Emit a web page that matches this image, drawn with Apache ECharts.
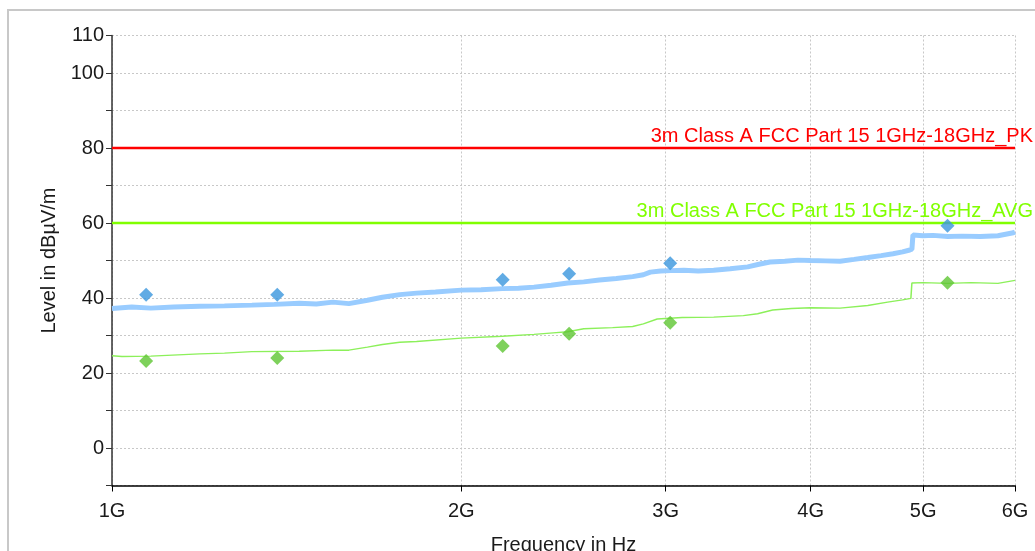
<!DOCTYPE html>
<html>
<head>
<meta charset="utf-8">
<script src="https://cdn.jsdelivr.net/npm/echarts@6/dist/echarts.min.js"></script>
<style>
html,body{margin:0;padding:0;background:#fff;overflow:hidden;}
#c{width:1035px;height:551px;}
</style>
</head>
<body>
<div id="c"></div>
<script>
// ---- data (frequencies in GHz, levels in dBµV/m) ----
const xTickGHz = [1, 2, 3, 4, 5, 6];
const yLabelValues = [110, 100, 80, 60, 40, 20, 0];

const peakFreq = [1.00,1.04,1.08,1.13,1.19,1.25,1.32,1.38,1.45,1.50,1.55,1.60,1.66,1.71,1.77,1.83,1.90,2.00,2.08,2.17,2.24,2.31,2.39,2.47,2.55,2.63,2.72,2.81,2.87,2.91,2.97,3.03,3.11,3.20,3.30,3.41,3.53,3.61,3.69,3.80,3.90,4.00,4.12,4.24,4.36,4.48,4.60,4.71,4.80,4.87,4.89,4.90,5.00,5.10,5.25,5.40,5.60,5.80,5.98,6.00];
const peakLevel = [37.2,37.6,37.3,37.6,37.8,37.9,38.1,38.3,38.6,38.4,38.9,38.5,39.4,40.2,40.9,41.3,41.6,42.1,42.2,42.5,42.6,42.9,43.4,44.0,44.3,44.8,45.2,45.7,46.2,46.9,47.2,47.3,47.4,47.2,47.4,47.8,48.3,49.0,49.6,49.8,50.1,50.0,49.9,49.8,50.3,50.8,51.3,51.8,52.3,52.8,53.0,56.8,56.6,56.7,56.4,56.5,56.4,56.6,57.4,57.6];

const avgFreq = [1.00,1.02,1.08,1.19,1.25,1.32,1.45,1.55,1.60,1.66,1.71,1.77,1.83,2.00,2.17,2.31,2.40,2.47,2.55,2.70,2.81,2.87,2.95,3.10,3.30,3.50,3.60,3.71,3.85,4.00,4.24,4.48,4.66,4.80,4.88,4.89,5.00,5.25,5.50,5.80,6.00];
const avgLevel = [24.6,24.4,24.5,25.1,25.3,25.7,25.8,26.1,26.1,26.9,27.6,28.2,28.4,29.3,29.8,30.3,30.7,31.0,31.8,32.1,32.4,33.1,34.4,34.8,34.9,35.3,35.8,36.8,37.2,37.4,37.3,38.0,38.9,39.5,39.9,44.0,44.1,43.9,44.1,43.9,44.7];

const markFreq = [1.070, 1.388, 2.171, 2.477, 3.027, 5.248];
const peakMarkLevel = [40.9, 40.9, 44.9, 46.5, 49.3, 59.3];
const avgMarkLevel = [23.2, 24.0, 27.2, 30.5, 33.4, 44.1];

const limitFreq = [1, 6];
const pkLimit = 80;
const avgLimit = 60;
const pkLimitName = '3m Class A FCC Part 15 1GHz-18GHz_PK';
const avgLimitName = '3m Class A FCC Part 15 1GHz-18GHz_AVG';

// ---- build ----
const lg = v => Math.log10(v);
const pairs = (fs, ls) => fs.map((f, i) => [lg(f), ls[i]]);
const FONT = '"Liberation Sans", Arial, sans-serif';
const FS = 20;

function limitSeries(name, level, color) {
  return {
    type: 'line', name: name, silent: true, z: 3,
    symbol: 'circle', symbolSize: 0, showSymbol: true,
    lineStyle: {color: color, width: 2.5},
    itemStyle: {color: color},
    data: [
      [lg(limitFreq[0]), level],
      {value: [lg(limitFreq[1]), level],
       label: {show: true, position: 'top', distance: 2, align: 'right', offset: [18, 0],
               formatter: name, color: color, fontSize: FS, fontFamily: FONT}}
    ]
  };
}

const chart = echarts.init(document.getElementById('c'), null, {renderer: 'canvas'});
chart.setOption({
  animation: false,
  backgroundColor: '#fff',
  textStyle: {fontFamily: FONT},
  graphic: [{
    type: 'rect', shape: {x: 8, y: 10, width: 1100, height: 600},
    style: {fill: 'none', stroke: '#c8c8c8', lineWidth: 2}, silent: true, z: -10
  }],
  grid: {left: 112, top: 35.5, width: 903, height: 450, containLabel: false, outerBoundsMode: 'none'},
  xAxis: {
    type: 'value', min: 0, max: lg(6),
    name: 'Frequency in Hz', nameLocation: 'middle', nameGap: 50,
    nameTextStyle: {fontSize: FS, color: '#1a1a1a', fontFamily: FONT},
    axisLine: {onZero: false, lineStyle: {color: '#000', width: 1.5}},
    axisTick: {show: true, length: 6, customValues: xTickGHz.map(lg), lineStyle: {color: '#000'}},
    axisLabel: {customValues: xTickGHz.map(lg), margin: 16, fontSize: FS, color: '#1a1a1a', fontFamily: FONT,
      formatter: v => Math.round(Math.pow(10, v)) + 'G'},
    splitLine: {show: true, lineStyle: {color: '#c8c8c8', type: [2, 2], width: 1}}
  },
  yAxis: {
    type: 'value', min: -10, max: 110, interval: 10,
    name: 'Level in dBµV/m', nameLocation: 'middle', nameGap: 53,
    nameTextStyle: {fontSize: FS, color: '#1a1a1a', fontFamily: FONT},
    axisLine: {show: true, onZero: false, lineStyle: {color: '#333', width: 1.5}},
    axisTick: {show: true, length: 6, lineStyle: {color: '#333'}},
    axisLabel: {margin: 8, fontSize: FS, color: '#1a1a1a', fontFamily: FONT,
      formatter: v => yLabelValues.indexOf(v) >= 0 ? String(v) : ''},
    splitLine: {show: true, lineStyle: {color: '#c8c8c8', type: [2, 2], width: 1}}
  },
  series: [
    limitSeries(pkLimitName, pkLimit, '#ff0000'),
    limitSeries(avgLimitName, avgLimit, '#80ff00'),
    {
      type: 'line', name: 'Peak', showSymbol: false, silent: true, z: 2,
      lineStyle: {color: '#99ccff', width: 5},
      data: pairs(peakFreq, peakLevel)
    },
    {
      type: 'line', name: 'Average', showSymbol: false, silent: true, z: 2,
      lineStyle: {color: '#8cf05a', width: 1.5},
      data: pairs(avgFreq, avgLevel)
    },
    {
      type: 'scatter', name: 'Peak final', symbol: 'diamond', symbolSize: 14, z: 4,
      itemStyle: {color: '#3a96dd'},
      data: pairs(markFreq, peakMarkLevel)
    },
    {
      type: 'scatter', name: 'Average final', symbol: 'diamond', symbolSize: 14, z: 4,
      itemStyle: {color: '#5ec632'},
      data: pairs(markFreq, avgMarkLevel)
    }
  ]
});
</script>
</body>
</html>
